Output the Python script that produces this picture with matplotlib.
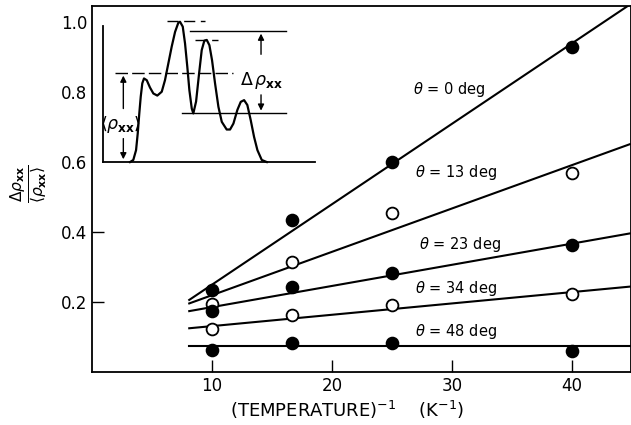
import matplotlib
matplotlib.use("Agg")
import matplotlib.pyplot as plt

plt.rcParams['font.family'] = ['DejaVu Sans']
plt.rcParams['mathtext.fontset'] = 'dejavusans'

# measured points, x = 1/T (K^-1)
inv_t = [10, 16.7, 25, 40]
angulos = [0, 13, 23, 34, 48]
relleno = [True, False, True, False, True]
valores = {
    0: [0.234, 0.434, 0.599, 0.930],
    13: [0.194, 0.315, 0.453, 0.570],
    23: [0.175, 0.244, 0.282, 0.363],
    34: [0.123, 0.163, 0.191, 0.223],
    48: [0.063, 0.084, 0.084, 0.061],
}
# fitted straight lines (start / end)
recta_x = [8.1, 44.8]
rectas = {
    0: [0.206, 1.05],
    13: [0.196, 0.651],
    23: [0.174, 0.396],
    34: [0.125, 0.244],
    48: [0.075, 0.075],
}
etiqueta_pos = {0: (26.75, 0.806), 13: (26.9, 0.571), 23: (27.2, 0.363),
                34: (26.9, 0.240), 48: (26.9, 0.117)}

# inset sketch of rho_xx oscillations (same data units as main axes)
curva_x = [3.17, 3.44, 3.67, 3.81, 3.94, 4.06, 4.19, 4.33, 4.56, 4.83, 5.11, 5.44,
           5.81, 6.08, 6.36, 6.64, 6.92, 7.19, 7.33, 7.56, 7.75, 7.94, 8.11, 8.31,
           8.44, 8.67, 8.92, 9.14, 9.36, 9.56, 9.78, 10.0, 10.25, 10.53, 10.81,
           11.22, 11.5, 11.78, 12.11, 12.39, 12.67, 12.94, 13.22, 13.5, 13.78,
           14.14, 14.56]
curva_y = [0.600, 0.606, 0.634, 0.682, 0.739, 0.787, 0.825, 0.839, 0.834, 0.813,
           0.796, 0.790, 0.801, 0.834, 0.882, 0.930, 0.972, 0.998, 1.001, 0.987,
           0.939, 0.872, 0.806, 0.753, 0.739, 0.773, 0.853, 0.920, 0.947, 0.949,
           0.934, 0.891, 0.825, 0.758, 0.715, 0.693, 0.693, 0.710, 0.749, 0.772,
           0.777, 0.763, 0.720, 0.672, 0.634, 0.606, 0.600]

fig = plt.figure(figsize=(6.31, 4.25), dpi=100)
ax = fig.add_axes([0.1458, 0.1247, 0.8542, 0.862])
ax.set_xlim(0, 44.9)
ax.set_ylim(0, 1.047)

for a, lleno in zip(angulos, relleno):
    ax.plot(recta_x, rectas[a], color='black', lw=1.5, zorder=2)
    ax.plot(inv_t, valores[a], 'o', ms=8.5, mec='black', mew=1.3,
            mfc='black' if lleno else 'white', zorder=3)
    tx, ty = etiqueta_pos[a]
    ax.text(tx, ty, rf'$\theta$ = {a} deg', fontsize=10.5, va='center', ha='left')

# inset
k = dict(color='black', lw=1.3)
ax.plot([0.92, 0.92], [0.6, 0.99], **k)
ax.plot([0.92, 18.6], [0.6, 0.6], **k)
ax.plot(curva_x, curva_y, color='black', lw=1.6)
ax.plot([1.92, 11.78], [0.855, 0.855], color='black', lw=1.0, ls=(0, (9, 3)))
ax.plot([6.22, 9.42], [1.004, 1.004], color='black', lw=1.0, ls=(0, (8, 4)))
ax.plot([8.58, 10.53], [0.950, 0.950], color='black', lw=1.0, ls=(0, (8, 4)))
ax.plot([8.17, 16.17], [0.975, 0.975], color='black', lw=1.0)
ax.plot([7.47, 16.2], [0.739, 0.739], color='black', lw=1.0)
flecha = dict(arrowstyle='-|>', color='black', lw=1.0, mutation_scale=9)
ax.annotate('', xy=(14.08, 0.975), xytext=(14.08, 0.90), arrowprops=flecha)
ax.annotate('', xy=(14.08, 0.739), xytext=(14.08, 0.80), arrowprops=flecha)
ax.text(14.1, 0.833, r'$\Delta\,\rho_{\mathbf{xx}}$', fontsize=12.5, ha='center', va='center')
ax.annotate('', xy=(2.61, 0.855), xytext=(2.61, 0.745), arrowprops=flecha)
ax.annotate('', xy=(2.61, 0.60), xytext=(2.61, 0.675), arrowprops=flecha)
ax.text(2.4, 0.706, r'$\langle\rho_{\mathbf{xx}}\rangle$', fontsize=12.5, ha='center', va='center')

ax.set_xticks([10, 20, 30, 40])
ax.set_yticks([0.2, 0.4, 0.6, 0.8, 1.0])
ax.set_yticklabels(['0.2', '0.4', '0.6', '0.8', '1.0'])
ax.tick_params(direction='in', length=8.5, width=1.0, labelsize=12)
for t in ax.yaxis.get_major_ticks()[2:]:
    t.tick1line.set_visible(False)
for s in ax.spines.values():
    s.set_linewidth(1.3)

fig.text(347 / 631, 1 - 410 / 425, r'(TEMPERATURE)$^{-1}$    (K$^{-1}$)',
         fontsize=13, ha='center', va='center')
fig.text(29 / 631, 1 - 184 / 425,
         r'$\frac{\Delta\rho_{\mathbf{xx}}}{\langle\rho_{\mathbf{xx}}\rangle}$',
         fontsize=16, rotation=90, ha='center', va='center')

fig.savefig('out.png', dpi=100)
